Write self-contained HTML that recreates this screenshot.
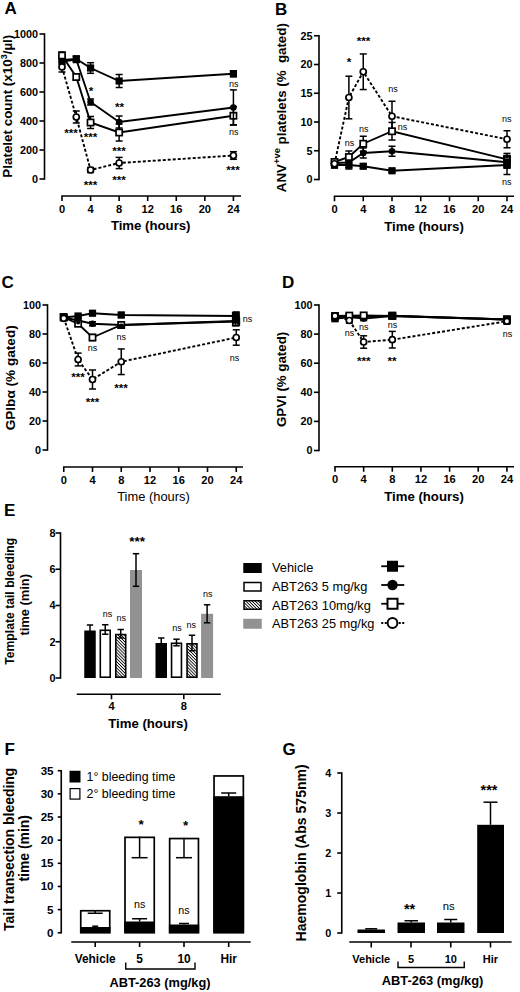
<!DOCTYPE html>
<html><head><meta charset="utf-8"><title>Figure</title>
<style>html,body{margin:0;padding:0;background:#fff;}svg{display:block;}text{font-family:"Liberation Sans",sans-serif;fill:#000;}</style>
</head><body>
<svg width="520" height="992" viewBox="0 0 520 992">
<defs><pattern id="hatch" width="2.2" height="2.2" patternUnits="userSpaceOnUse" patternTransform="rotate(45)"><rect width="2.2" height="2.2" fill="#fff"/><rect width="2.2" height="0.85" fill="#000"/></pattern></defs>
<rect width="520" height="992" fill="#fff"/>
<g id="panelA">
<text x="4.5" y="13.75" font-size="17" font-weight="bold" text-anchor="start">A</text>
<line x1="44.5" y1="33.25" x2="44.5" y2="179.75" stroke="#000" stroke-width="1.6"/>
<line x1="39.5" y1="179.0" x2="44.5" y2="179.0" stroke="#000" stroke-width="1.6"/>
<text x="38.0" y="182.9" font-size="10.8" font-weight="bold" text-anchor="end">0</text>
<line x1="39.5" y1="150.0" x2="44.5" y2="150.0" stroke="#000" stroke-width="1.6"/>
<text x="38.0" y="153.9" font-size="10.8" font-weight="bold" text-anchor="end">200</text>
<line x1="39.5" y1="121.0" x2="44.5" y2="121.0" stroke="#000" stroke-width="1.6"/>
<text x="38.0" y="124.9" font-size="10.8" font-weight="bold" text-anchor="end">400</text>
<line x1="39.5" y1="92.0" x2="44.5" y2="92.0" stroke="#000" stroke-width="1.6"/>
<text x="38.0" y="95.9" font-size="10.8" font-weight="bold" text-anchor="end">600</text>
<line x1="39.5" y1="63.0" x2="44.5" y2="63.0" stroke="#000" stroke-width="1.6"/>
<text x="38.0" y="66.9" font-size="10.8" font-weight="bold" text-anchor="end">800</text>
<line x1="39.5" y1="34.0" x2="44.5" y2="34.0" stroke="#000" stroke-width="1.6"/>
<text x="38.0" y="37.9" font-size="10.8" font-weight="bold" text-anchor="end">1000</text>
<line x1="61.25" y1="196" x2="241" y2="196" stroke="#000" stroke-width="1.6"/>
<line x1="62.0" y1="196" x2="62.0" y2="201" stroke="#000" stroke-width="1.6"/>
<text x="62.0" y="213.1" font-size="11.1" font-weight="bold" text-anchor="middle">0</text>
<line x1="90.57" y1="196" x2="90.57" y2="201" stroke="#000" stroke-width="1.6"/>
<text x="90.57" y="213.1" font-size="11.1" font-weight="bold" text-anchor="middle">4</text>
<line x1="119.14" y1="196" x2="119.14" y2="201" stroke="#000" stroke-width="1.6"/>
<text x="119.14" y="213.1" font-size="11.1" font-weight="bold" text-anchor="middle">8</text>
<line x1="147.7" y1="196" x2="147.7" y2="201" stroke="#000" stroke-width="1.6"/>
<text x="147.7" y="213.1" font-size="11.1" font-weight="bold" text-anchor="middle">12</text>
<line x1="176.27" y1="196" x2="176.27" y2="201" stroke="#000" stroke-width="1.6"/>
<text x="176.27" y="213.1" font-size="11.1" font-weight="bold" text-anchor="middle">16</text>
<line x1="204.84" y1="196" x2="204.84" y2="201" stroke="#000" stroke-width="1.6"/>
<text x="204.84" y="213.1" font-size="11.1" font-weight="bold" text-anchor="middle">20</text>
<line x1="233.41" y1="196" x2="233.41" y2="201" stroke="#000" stroke-width="1.6"/>
<text x="233.41" y="213.1" font-size="11.1" font-weight="bold" text-anchor="middle">24</text>
<text x="150.7" y="230.2" font-size="13.2" font-weight="bold" text-anchor="middle">Time (hours)</text>
<text x="12.3" y="106.2" font-size="13.4" font-weight="bold" text-anchor="middle" transform="rotate(-90 12.3 106.2)" textLength="143" lengthAdjust="spacingAndGlyphs">Platelet count (x10<tspan font-size="9" dy="-5">3</tspan><tspan dy="5">/µl)</tspan></text>
<polyline points="62.0,60 76.28,59 90.57,68 119.14,81 233.41,73.75" fill="none" stroke="#000" stroke-width="1.9"/>
<polyline points="62.0,61.5 76.28,59.5 90.57,102 119.14,122 233.41,107.5" fill="none" stroke="#000" stroke-width="1.9"/>
<polyline points="62.0,55.5 76.28,77 90.57,122.5 119.14,132.5 233.41,115.75" fill="none" stroke="#000" stroke-width="1.9"/>
<polyline points="62.0,67 76.28,117 90.57,170 119.14,163 233.41,155.5" fill="none" stroke="#000" stroke-width="1.9" stroke-dasharray="3 2"/>
<line x1="62.0" y1="56" x2="62.0" y2="64" stroke="#000" stroke-width="1.5"/>
<line x1="58.5" y1="56" x2="65.5" y2="56" stroke="#000" stroke-width="1.5"/>
<line x1="58.5" y1="64" x2="65.5" y2="64" stroke="#000" stroke-width="1.5"/>
<line x1="76.28" y1="56" x2="76.28" y2="62" stroke="#000" stroke-width="1.5"/>
<line x1="72.78" y1="56" x2="79.78" y2="56" stroke="#000" stroke-width="1.5"/>
<line x1="72.78" y1="62" x2="79.78" y2="62" stroke="#000" stroke-width="1.5"/>
<line x1="90.57" y1="62.7" x2="90.57" y2="73.3" stroke="#000" stroke-width="1.5"/>
<line x1="87.07" y1="62.7" x2="94.07" y2="62.7" stroke="#000" stroke-width="1.5"/>
<line x1="87.07" y1="73.3" x2="94.07" y2="73.3" stroke="#000" stroke-width="1.5"/>
<line x1="119.14" y1="74.5" x2="119.14" y2="87.5" stroke="#000" stroke-width="1.5"/>
<line x1="115.64" y1="74.5" x2="122.64" y2="74.5" stroke="#000" stroke-width="1.5"/>
<line x1="115.64" y1="87.5" x2="122.64" y2="87.5" stroke="#000" stroke-width="1.5"/>
<line x1="233.41" y1="70.75" x2="233.41" y2="76.75" stroke="#000" stroke-width="1.5"/>
<line x1="229.91" y1="70.75" x2="236.91" y2="70.75" stroke="#000" stroke-width="1.5"/>
<line x1="229.91" y1="76.75" x2="236.91" y2="76.75" stroke="#000" stroke-width="1.5"/>
<line x1="62.0" y1="58.5" x2="62.0" y2="64.5" stroke="#000" stroke-width="1.5"/>
<line x1="58.5" y1="58.5" x2="65.5" y2="58.5" stroke="#000" stroke-width="1.5"/>
<line x1="58.5" y1="64.5" x2="65.5" y2="64.5" stroke="#000" stroke-width="1.5"/>
<line x1="76.28" y1="56.5" x2="76.28" y2="62.5" stroke="#000" stroke-width="1.5"/>
<line x1="72.78" y1="56.5" x2="79.78" y2="56.5" stroke="#000" stroke-width="1.5"/>
<line x1="72.78" y1="62.5" x2="79.78" y2="62.5" stroke="#000" stroke-width="1.5"/>
<line x1="90.57" y1="99" x2="90.57" y2="105" stroke="#000" stroke-width="1.5"/>
<line x1="87.07" y1="99" x2="94.07" y2="99" stroke="#000" stroke-width="1.5"/>
<line x1="87.07" y1="105" x2="94.07" y2="105" stroke="#000" stroke-width="1.5"/>
<line x1="119.14" y1="116" x2="119.14" y2="128" stroke="#000" stroke-width="1.5"/>
<line x1="115.64" y1="116" x2="122.64" y2="116" stroke="#000" stroke-width="1.5"/>
<line x1="115.64" y1="128" x2="122.64" y2="128" stroke="#000" stroke-width="1.5"/>
<line x1="233.41" y1="89.9" x2="233.41" y2="125.1" stroke="#000" stroke-width="1.5"/>
<line x1="229.91" y1="89.9" x2="236.91" y2="89.9" stroke="#000" stroke-width="1.5"/>
<line x1="229.91" y1="125.1" x2="236.91" y2="125.1" stroke="#000" stroke-width="1.5"/>
<line x1="62.0" y1="52.0" x2="62.0" y2="59.0" stroke="#000" stroke-width="1.5"/>
<line x1="58.5" y1="52.0" x2="65.5" y2="52.0" stroke="#000" stroke-width="1.5"/>
<line x1="58.5" y1="59.0" x2="65.5" y2="59.0" stroke="#000" stroke-width="1.5"/>
<line x1="76.28" y1="74" x2="76.28" y2="80" stroke="#000" stroke-width="1.5"/>
<line x1="72.78" y1="74" x2="79.78" y2="74" stroke="#000" stroke-width="1.5"/>
<line x1="72.78" y1="80" x2="79.78" y2="80" stroke="#000" stroke-width="1.5"/>
<line x1="90.57" y1="116.5" x2="90.57" y2="128.5" stroke="#000" stroke-width="1.5"/>
<line x1="87.07" y1="116.5" x2="94.07" y2="116.5" stroke="#000" stroke-width="1.5"/>
<line x1="87.07" y1="128.5" x2="94.07" y2="128.5" stroke="#000" stroke-width="1.5"/>
<line x1="119.14" y1="124.0" x2="119.14" y2="141.0" stroke="#000" stroke-width="1.5"/>
<line x1="115.64" y1="124.0" x2="122.64" y2="124.0" stroke="#000" stroke-width="1.5"/>
<line x1="115.64" y1="141.0" x2="122.64" y2="141.0" stroke="#000" stroke-width="1.5"/>
<line x1="233.41" y1="106.75" x2="233.41" y2="124.75" stroke="#000" stroke-width="1.5"/>
<line x1="229.91" y1="106.75" x2="236.91" y2="106.75" stroke="#000" stroke-width="1.5"/>
<line x1="229.91" y1="124.75" x2="236.91" y2="124.75" stroke="#000" stroke-width="1.5"/>
<line x1="62.0" y1="62" x2="62.0" y2="72" stroke="#000" stroke-width="1.5"/>
<line x1="58.5" y1="62" x2="65.5" y2="62" stroke="#000" stroke-width="1.5"/>
<line x1="58.5" y1="72" x2="65.5" y2="72" stroke="#000" stroke-width="1.5"/>
<line x1="76.28" y1="111" x2="76.28" y2="123" stroke="#000" stroke-width="1.5"/>
<line x1="72.78" y1="111" x2="79.78" y2="111" stroke="#000" stroke-width="1.5"/>
<line x1="72.78" y1="123" x2="79.78" y2="123" stroke="#000" stroke-width="1.5"/>
<line x1="90.57" y1="167.5" x2="90.57" y2="172.5" stroke="#000" stroke-width="1.5"/>
<line x1="87.07" y1="167.5" x2="94.07" y2="167.5" stroke="#000" stroke-width="1.5"/>
<line x1="87.07" y1="172.5" x2="94.07" y2="172.5" stroke="#000" stroke-width="1.5"/>
<line x1="119.14" y1="157.4" x2="119.14" y2="168.6" stroke="#000" stroke-width="1.5"/>
<line x1="115.64" y1="157.4" x2="122.64" y2="157.4" stroke="#000" stroke-width="1.5"/>
<line x1="115.64" y1="168.6" x2="122.64" y2="168.6" stroke="#000" stroke-width="1.5"/>
<line x1="233.41" y1="151.7" x2="233.41" y2="159.3" stroke="#000" stroke-width="1.5"/>
<line x1="229.91" y1="151.7" x2="236.91" y2="151.7" stroke="#000" stroke-width="1.5"/>
<line x1="229.91" y1="159.3" x2="236.91" y2="159.3" stroke="#000" stroke-width="1.5"/>
<rect x="58.4" y="56.4" width="7.2" height="7.2" fill="#000"/>
<rect x="72.67999999999999" y="55.4" width="7.2" height="7.2" fill="#000"/>
<rect x="86.96999999999998" y="64.39999999999999" width="7.2" height="7.2" fill="#000"/>
<rect x="115.53999999999999" y="77.39999999999999" width="7.2" height="7.2" fill="#000"/>
<rect x="229.81" y="70.14999999999999" width="7.2" height="7.2" fill="#000"/>
<circle cx="62.0" cy="61.5" r="3.3" fill="#000"/>
<circle cx="76.28" cy="59.5" r="3.3" fill="#000"/>
<circle cx="90.57" cy="102" r="3.3" fill="#000"/>
<circle cx="119.14" cy="122" r="3.3" fill="#000"/>
<circle cx="233.41" cy="107.5" r="3.3" fill="#000"/>
<rect x="58.9" y="52.4" width="6.2" height="6.2" fill="#fff" stroke="#000" stroke-width="1.7"/>
<rect x="73.17999999999999" y="73.89999999999999" width="6.2" height="6.2" fill="#fff" stroke="#000" stroke-width="1.7"/>
<rect x="87.46999999999998" y="119.39999999999999" width="6.2" height="6.2" fill="#fff" stroke="#000" stroke-width="1.7"/>
<rect x="116.03999999999999" y="129.4" width="6.2" height="6.2" fill="#fff" stroke="#000" stroke-width="1.7"/>
<rect x="230.31" y="112.64999999999999" width="6.2" height="6.2" fill="#fff" stroke="#000" stroke-width="1.7"/>
<circle cx="62.0" cy="67" r="3.0" fill="#fff" stroke="#000" stroke-width="1.7"/>
<circle cx="76.28" cy="117" r="3.0" fill="#fff" stroke="#000" stroke-width="1.7"/>
<circle cx="90.57" cy="170" r="3.0" fill="#fff" stroke="#000" stroke-width="1.7"/>
<circle cx="119.14" cy="163" r="3.0" fill="#fff" stroke="#000" stroke-width="1.7"/>
<circle cx="233.41" cy="155.5" r="3.0" fill="#fff" stroke="#000" stroke-width="1.7"/>
<text x="71" y="136.967" font-size="11.7" font-weight="bold" text-anchor="middle">***</text>
<text x="90.5" y="141.467" font-size="11.7" font-weight="bold" text-anchor="middle">***</text>
<text x="119" y="154.967" font-size="11.7" font-weight="bold" text-anchor="middle">***</text>
<text x="90.5" y="188.967" font-size="11.7" font-weight="bold" text-anchor="middle">***</text>
<text x="119" y="183.967" font-size="11.7" font-weight="bold" text-anchor="middle">***</text>
<text x="91" y="95.467" font-size="11.7" font-weight="bold" text-anchor="middle">*</text>
<text x="119.5" y="111.467" font-size="11.7" font-weight="bold" text-anchor="middle">**</text>
<text x="233" y="173.967" font-size="11.7" font-weight="bold" text-anchor="middle">***</text>
<text x="233.7" y="86.8" font-size="9" font-weight="normal" text-anchor="middle">ns</text>
<text x="233.7" y="135" font-size="9" font-weight="normal" text-anchor="middle">ns</text>
<line x1="233.41" y1="112" x2="233.41" y2="119.5" stroke="#000" stroke-width="1.5"/>
</g>
<g id="panelB">
<text x="275" y="14.5" font-size="17" font-weight="bold" text-anchor="start">B</text>
<line x1="319" y1="35.0" x2="319" y2="180.25" stroke="#000" stroke-width="1.6"/>
<line x1="314" y1="179.5" x2="319" y2="179.5" stroke="#000" stroke-width="1.6"/>
<text x="312.5" y="183.4" font-size="10.8" font-weight="bold" text-anchor="end">0</text>
<line x1="314" y1="150.75" x2="319" y2="150.75" stroke="#000" stroke-width="1.6"/>
<text x="312.5" y="154.65" font-size="10.8" font-weight="bold" text-anchor="end">5</text>
<line x1="314" y1="122.0" x2="319" y2="122.0" stroke="#000" stroke-width="1.6"/>
<text x="312.5" y="125.9" font-size="10.8" font-weight="bold" text-anchor="end">10</text>
<line x1="314" y1="93.25" x2="319" y2="93.25" stroke="#000" stroke-width="1.6"/>
<text x="312.5" y="97.15" font-size="10.8" font-weight="bold" text-anchor="end">15</text>
<line x1="314" y1="64.5" x2="319" y2="64.5" stroke="#000" stroke-width="1.6"/>
<text x="312.5" y="68.4" font-size="10.8" font-weight="bold" text-anchor="end">20</text>
<line x1="314" y1="35.75" x2="319" y2="35.75" stroke="#000" stroke-width="1.6"/>
<text x="312.5" y="39.65" font-size="10.8" font-weight="bold" text-anchor="end">25</text>
<line x1="333.75" y1="196.25" x2="514" y2="196.25" stroke="#000" stroke-width="1.6"/>
<line x1="334.5" y1="196.25" x2="334.5" y2="201.25" stroke="#000" stroke-width="1.6"/>
<text x="334.5" y="213.45" font-size="11.1" font-weight="bold" text-anchor="middle">0</text>
<line x1="363.25" y1="196.25" x2="363.25" y2="201.25" stroke="#000" stroke-width="1.6"/>
<text x="363.25" y="213.45" font-size="11.1" font-weight="bold" text-anchor="middle">4</text>
<line x1="392.0" y1="196.25" x2="392.0" y2="201.25" stroke="#000" stroke-width="1.6"/>
<text x="392.0" y="213.45" font-size="11.1" font-weight="bold" text-anchor="middle">8</text>
<line x1="420.75" y1="196.25" x2="420.75" y2="201.25" stroke="#000" stroke-width="1.6"/>
<text x="420.75" y="213.45" font-size="11.1" font-weight="bold" text-anchor="middle">12</text>
<line x1="449.5" y1="196.25" x2="449.5" y2="201.25" stroke="#000" stroke-width="1.6"/>
<text x="449.5" y="213.45" font-size="11.1" font-weight="bold" text-anchor="middle">16</text>
<line x1="478.25" y1="196.25" x2="478.25" y2="201.25" stroke="#000" stroke-width="1.6"/>
<text x="478.25" y="213.45" font-size="11.1" font-weight="bold" text-anchor="middle">20</text>
<line x1="507.0" y1="196.25" x2="507.0" y2="201.25" stroke="#000" stroke-width="1.6"/>
<text x="507.0" y="213.45" font-size="11.1" font-weight="bold" text-anchor="middle">24</text>
<text x="424" y="230.5" font-size="13.2" font-weight="bold" text-anchor="middle">Time (hours)</text>
<text x="286.1" y="107.65" font-size="13.3" font-weight="bold" text-anchor="middle" transform="rotate(-90 286.1 107.65)" textLength="169" lengthAdjust="spacingAndGlyphs">ANV<tspan font-size="9.4" dy="-6">+ve</tspan><tspan dy="6"> platelets (%&#160;&#160;gated)</tspan></text>
<polyline points="334.5,165 348.88,165 363.25,166.25 392.0,170.75 507.0,165" fill="none" stroke="#000" stroke-width="1.9"/>
<polyline points="334.5,163 348.88,162.5 363.25,153 392.0,151.25 507.0,162.25" fill="none" stroke="#000" stroke-width="1.9"/>
<polyline points="334.5,162 348.88,157 363.25,143.75 392.0,131.25 507.0,159.4" fill="none" stroke="#000" stroke-width="1.9"/>
<polyline points="334.5,163.75 348.88,97.5 363.25,71.75 392.0,116.25 507.0,139.25" fill="none" stroke="#000" stroke-width="1.9" stroke-dasharray="3 2"/>
<line x1="334.5" y1="162" x2="334.5" y2="168" stroke="#000" stroke-width="1.5"/>
<line x1="331.0" y1="162" x2="338.0" y2="162" stroke="#000" stroke-width="1.5"/>
<line x1="331.0" y1="168" x2="338.0" y2="168" stroke="#000" stroke-width="1.5"/>
<line x1="348.88" y1="161" x2="348.88" y2="169" stroke="#000" stroke-width="1.5"/>
<line x1="345.38" y1="161" x2="352.38" y2="161" stroke="#000" stroke-width="1.5"/>
<line x1="345.38" y1="169" x2="352.38" y2="169" stroke="#000" stroke-width="1.5"/>
<line x1="363.25" y1="164.25" x2="363.25" y2="168.25" stroke="#000" stroke-width="1.5"/>
<line x1="359.75" y1="164.25" x2="366.75" y2="164.25" stroke="#000" stroke-width="1.5"/>
<line x1="359.75" y1="168.25" x2="366.75" y2="168.25" stroke="#000" stroke-width="1.5"/>
<line x1="392.0" y1="169.25" x2="392.0" y2="172.25" stroke="#000" stroke-width="1.5"/>
<line x1="388.5" y1="169.25" x2="395.5" y2="169.25" stroke="#000" stroke-width="1.5"/>
<line x1="388.5" y1="172.25" x2="395.5" y2="172.25" stroke="#000" stroke-width="1.5"/>
<line x1="507.0" y1="155.5" x2="507.0" y2="174.5" stroke="#000" stroke-width="1.5"/>
<line x1="503.5" y1="155.5" x2="510.5" y2="155.5" stroke="#000" stroke-width="1.5"/>
<line x1="503.5" y1="174.5" x2="510.5" y2="174.5" stroke="#000" stroke-width="1.5"/>
<line x1="334.5" y1="160" x2="334.5" y2="166" stroke="#000" stroke-width="1.5"/>
<line x1="331.0" y1="160" x2="338.0" y2="160" stroke="#000" stroke-width="1.5"/>
<line x1="331.0" y1="166" x2="338.0" y2="166" stroke="#000" stroke-width="1.5"/>
<line x1="348.88" y1="157.5" x2="348.88" y2="167.5" stroke="#000" stroke-width="1.5"/>
<line x1="345.38" y1="157.5" x2="352.38" y2="157.5" stroke="#000" stroke-width="1.5"/>
<line x1="345.38" y1="167.5" x2="352.38" y2="167.5" stroke="#000" stroke-width="1.5"/>
<line x1="363.25" y1="148" x2="363.25" y2="158" stroke="#000" stroke-width="1.5"/>
<line x1="359.75" y1="148" x2="366.75" y2="148" stroke="#000" stroke-width="1.5"/>
<line x1="359.75" y1="158" x2="366.75" y2="158" stroke="#000" stroke-width="1.5"/>
<line x1="392.0" y1="146.25" x2="392.0" y2="156.25" stroke="#000" stroke-width="1.5"/>
<line x1="388.5" y1="146.25" x2="395.5" y2="146.25" stroke="#000" stroke-width="1.5"/>
<line x1="388.5" y1="156.25" x2="395.5" y2="156.25" stroke="#000" stroke-width="1.5"/>
<line x1="507.0" y1="156.25" x2="507.0" y2="168.25" stroke="#000" stroke-width="1.5"/>
<line x1="503.5" y1="156.25" x2="510.5" y2="156.25" stroke="#000" stroke-width="1.5"/>
<line x1="503.5" y1="168.25" x2="510.5" y2="168.25" stroke="#000" stroke-width="1.5"/>
<line x1="334.5" y1="159" x2="334.5" y2="165" stroke="#000" stroke-width="1.5"/>
<line x1="331.0" y1="159" x2="338.0" y2="159" stroke="#000" stroke-width="1.5"/>
<line x1="331.0" y1="165" x2="338.0" y2="165" stroke="#000" stroke-width="1.5"/>
<line x1="348.88" y1="151" x2="348.88" y2="163" stroke="#000" stroke-width="1.5"/>
<line x1="345.38" y1="151" x2="352.38" y2="151" stroke="#000" stroke-width="1.5"/>
<line x1="345.38" y1="163" x2="352.38" y2="163" stroke="#000" stroke-width="1.5"/>
<line x1="363.25" y1="136.25" x2="363.25" y2="151.25" stroke="#000" stroke-width="1.5"/>
<line x1="359.75" y1="136.25" x2="366.75" y2="136.25" stroke="#000" stroke-width="1.5"/>
<line x1="359.75" y1="151.25" x2="366.75" y2="151.25" stroke="#000" stroke-width="1.5"/>
<line x1="392.0" y1="122.45" x2="392.0" y2="140.05" stroke="#000" stroke-width="1.5"/>
<line x1="388.5" y1="122.45" x2="395.5" y2="122.45" stroke="#000" stroke-width="1.5"/>
<line x1="388.5" y1="140.05" x2="395.5" y2="140.05" stroke="#000" stroke-width="1.5"/>
<line x1="507.0" y1="153.4" x2="507.0" y2="165.4" stroke="#000" stroke-width="1.5"/>
<line x1="503.5" y1="153.4" x2="510.5" y2="153.4" stroke="#000" stroke-width="1.5"/>
<line x1="503.5" y1="165.4" x2="510.5" y2="165.4" stroke="#000" stroke-width="1.5"/>
<line x1="334.5" y1="160.75" x2="334.5" y2="166.75" stroke="#000" stroke-width="1.5"/>
<line x1="331.0" y1="160.75" x2="338.0" y2="160.75" stroke="#000" stroke-width="1.5"/>
<line x1="331.0" y1="166.75" x2="338.0" y2="166.75" stroke="#000" stroke-width="1.5"/>
<line x1="348.88" y1="76.2" x2="348.88" y2="118.8" stroke="#000" stroke-width="1.5"/>
<line x1="345.38" y1="76.2" x2="352.38" y2="76.2" stroke="#000" stroke-width="1.5"/>
<line x1="345.38" y1="118.8" x2="352.38" y2="118.8" stroke="#000" stroke-width="1.5"/>
<line x1="363.25" y1="53.95" x2="363.25" y2="89.55" stroke="#000" stroke-width="1.5"/>
<line x1="359.75" y1="53.95" x2="366.75" y2="53.95" stroke="#000" stroke-width="1.5"/>
<line x1="359.75" y1="89.55" x2="366.75" y2="89.55" stroke="#000" stroke-width="1.5"/>
<line x1="392.0" y1="101.25" x2="392.0" y2="131.25" stroke="#000" stroke-width="1.5"/>
<line x1="388.5" y1="101.25" x2="395.5" y2="101.25" stroke="#000" stroke-width="1.5"/>
<line x1="388.5" y1="131.25" x2="395.5" y2="131.25" stroke="#000" stroke-width="1.5"/>
<line x1="507.0" y1="130.75" x2="507.0" y2="147.75" stroke="#000" stroke-width="1.5"/>
<line x1="503.5" y1="130.75" x2="510.5" y2="130.75" stroke="#000" stroke-width="1.5"/>
<line x1="503.5" y1="147.75" x2="510.5" y2="147.75" stroke="#000" stroke-width="1.5"/>
<rect x="330.90000000000003" y="161.4" width="7.2" height="7.2" fill="#000"/>
<rect x="345.28000000000003" y="161.4" width="7.2" height="7.2" fill="#000"/>
<rect x="359.65000000000003" y="162.65" width="7.2" height="7.2" fill="#000"/>
<rect x="388.40000000000003" y="167.15" width="7.2" height="7.2" fill="#000"/>
<rect x="503.40000000000003" y="161.4" width="7.2" height="7.2" fill="#000"/>
<circle cx="334.5" cy="163" r="3.3" fill="#000"/>
<circle cx="348.88" cy="162.5" r="3.3" fill="#000"/>
<circle cx="363.25" cy="153" r="3.3" fill="#000"/>
<circle cx="392.0" cy="151.25" r="3.3" fill="#000"/>
<circle cx="507.0" cy="162.25" r="3.3" fill="#000"/>
<rect x="331.40000000000003" y="158.9" width="6.2" height="6.2" fill="#fff" stroke="#000" stroke-width="1.7"/>
<rect x="345.78000000000003" y="153.9" width="6.2" height="6.2" fill="#fff" stroke="#000" stroke-width="1.7"/>
<rect x="360.15000000000003" y="140.65" width="6.2" height="6.2" fill="#fff" stroke="#000" stroke-width="1.7"/>
<rect x="388.90000000000003" y="128.15" width="6.2" height="6.2" fill="#fff" stroke="#000" stroke-width="1.7"/>
<rect x="503.90000000000003" y="156.3" width="6.2" height="6.2" fill="#fff" stroke="#000" stroke-width="1.7"/>
<circle cx="334.5" cy="163.75" r="3.0" fill="#fff" stroke="#000" stroke-width="1.7"/>
<circle cx="348.88" cy="97.5" r="3.0" fill="#fff" stroke="#000" stroke-width="1.7"/>
<circle cx="363.25" cy="71.75" r="3.0" fill="#fff" stroke="#000" stroke-width="1.7"/>
<circle cx="392.0" cy="116.25" r="3.0" fill="#fff" stroke="#000" stroke-width="1.7"/>
<circle cx="507.0" cy="139.25" r="3.0" fill="#fff" stroke="#000" stroke-width="1.7"/>
<rect x="503.3" y="155.6" width="7.4" height="12.2" fill="#000"/>
<rect x="505.4" y="157.8" width="1.1" height="1.1" fill="#aaa"/><rect x="507.6" y="157.8" width="1.1" height="1.1" fill="#aaa"/>
<text x="349" y="65.967" font-size="11.7" font-weight="bold" text-anchor="middle">*</text>
<text x="363.5" y="44.967" font-size="11.7" font-weight="bold" text-anchor="middle">***</text>
<text x="349.5" y="145.5" font-size="9" font-weight="normal" text-anchor="middle">ns</text>
<text x="363.75" y="131.75" font-size="9" font-weight="normal" text-anchor="middle">ns</text>
<text x="393" y="91.75" font-size="9" font-weight="normal" text-anchor="middle">ns</text>
<text x="402.5" y="130" font-size="9" font-weight="normal" text-anchor="middle">ns</text>
<text x="506.75" y="122.25" font-size="9" font-weight="normal" text-anchor="middle">ns</text>
<text x="506.75" y="184.5" font-size="9" font-weight="normal" text-anchor="middle">ns</text>
</g>
<g id="panelC">
<text x="1.5" y="288" font-size="17" font-weight="bold" text-anchor="start">C</text>
<line x1="47.5" y1="304.25" x2="47.5" y2="450.75" stroke="#000" stroke-width="1.6"/>
<line x1="42.5" y1="450.0" x2="47.5" y2="450.0" stroke="#000" stroke-width="1.6"/>
<text x="41.0" y="453.9" font-size="10.8" font-weight="bold" text-anchor="end">0</text>
<line x1="42.5" y1="421.0" x2="47.5" y2="421.0" stroke="#000" stroke-width="1.6"/>
<text x="41.0" y="424.9" font-size="10.8" font-weight="bold" text-anchor="end">20</text>
<line x1="42.5" y1="392.0" x2="47.5" y2="392.0" stroke="#000" stroke-width="1.6"/>
<text x="41.0" y="395.9" font-size="10.8" font-weight="bold" text-anchor="end">40</text>
<line x1="42.5" y1="363.0" x2="47.5" y2="363.0" stroke="#000" stroke-width="1.6"/>
<text x="41.0" y="366.9" font-size="10.8" font-weight="bold" text-anchor="end">60</text>
<line x1="42.5" y1="334.0" x2="47.5" y2="334.0" stroke="#000" stroke-width="1.6"/>
<text x="41.0" y="337.9" font-size="10.8" font-weight="bold" text-anchor="end">80</text>
<line x1="42.5" y1="305.0" x2="47.5" y2="305.0" stroke="#000" stroke-width="1.6"/>
<text x="41.0" y="308.9" font-size="10.8" font-weight="bold" text-anchor="end">100</text>
<line x1="63.0" y1="467" x2="243" y2="467" stroke="#000" stroke-width="1.6"/>
<line x1="63.75" y1="467" x2="63.75" y2="472" stroke="#000" stroke-width="1.6"/>
<text x="63.75" y="483.6" font-size="11.1" font-weight="bold" text-anchor="middle">0</text>
<line x1="92.5" y1="467" x2="92.5" y2="472" stroke="#000" stroke-width="1.6"/>
<text x="92.5" y="483.6" font-size="11.1" font-weight="bold" text-anchor="middle">4</text>
<line x1="121.25" y1="467" x2="121.25" y2="472" stroke="#000" stroke-width="1.6"/>
<text x="121.25" y="483.6" font-size="11.1" font-weight="bold" text-anchor="middle">8</text>
<line x1="150.0" y1="467" x2="150.0" y2="472" stroke="#000" stroke-width="1.6"/>
<text x="150.0" y="483.6" font-size="11.1" font-weight="bold" text-anchor="middle">12</text>
<line x1="178.75" y1="467" x2="178.75" y2="472" stroke="#000" stroke-width="1.6"/>
<text x="178.75" y="483.6" font-size="11.1" font-weight="bold" text-anchor="middle">16</text>
<line x1="207.5" y1="467" x2="207.5" y2="472" stroke="#000" stroke-width="1.6"/>
<text x="207.5" y="483.6" font-size="11.1" font-weight="bold" text-anchor="middle">20</text>
<line x1="236.25" y1="467" x2="236.25" y2="472" stroke="#000" stroke-width="1.6"/>
<text x="236.25" y="483.6" font-size="11.1" font-weight="bold" text-anchor="middle">24</text>
<text x="153.5" y="501" font-size="12.9" font-weight="normal" text-anchor="middle">Time (hours)</text>
<text x="15.3" y="377.8" font-size="13.5" font-weight="bold" text-anchor="middle" transform="rotate(-90 15.3 377.8)" textLength="105" lengthAdjust="spacingAndGlyphs">GPIbα (% gated)</text>
<polyline points="63.75,317.5 78.12,316 92.5,313.25 121.25,315 236.25,316" fill="none" stroke="#000" stroke-width="1.9"/>
<polyline points="63.75,317.5 78.12,320.5 92.5,323.75 121.25,325 236.25,321" fill="none" stroke="#000" stroke-width="1.9"/>
<polyline points="63.75,317.5 78.12,323.75 92.5,337.5 121.25,325 236.25,321.5" fill="none" stroke="#000" stroke-width="1.9"/>
<polyline points="63.75,318 78.12,359.5 92.5,379.5 121.25,361.75 236.25,337.5" fill="none" stroke="#000" stroke-width="1.9" stroke-dasharray="3 2"/>
<line x1="63.75" y1="315.5" x2="63.75" y2="319.5" stroke="#000" stroke-width="1.5"/>
<line x1="60.25" y1="315.5" x2="67.25" y2="315.5" stroke="#000" stroke-width="1.5"/>
<line x1="60.25" y1="319.5" x2="67.25" y2="319.5" stroke="#000" stroke-width="1.5"/>
<line x1="78.12" y1="314" x2="78.12" y2="318" stroke="#000" stroke-width="1.5"/>
<line x1="74.62" y1="314" x2="81.62" y2="314" stroke="#000" stroke-width="1.5"/>
<line x1="74.62" y1="318" x2="81.62" y2="318" stroke="#000" stroke-width="1.5"/>
<line x1="92.5" y1="311.25" x2="92.5" y2="315.25" stroke="#000" stroke-width="1.5"/>
<line x1="89.0" y1="311.25" x2="96.0" y2="311.25" stroke="#000" stroke-width="1.5"/>
<line x1="89.0" y1="315.25" x2="96.0" y2="315.25" stroke="#000" stroke-width="1.5"/>
<line x1="121.25" y1="312.5" x2="121.25" y2="317.5" stroke="#000" stroke-width="1.5"/>
<line x1="117.75" y1="312.5" x2="124.75" y2="312.5" stroke="#000" stroke-width="1.5"/>
<line x1="117.75" y1="317.5" x2="124.75" y2="317.5" stroke="#000" stroke-width="1.5"/>
<line x1="236.25" y1="312" x2="236.25" y2="320" stroke="#000" stroke-width="1.5"/>
<line x1="232.75" y1="312" x2="239.75" y2="312" stroke="#000" stroke-width="1.5"/>
<line x1="232.75" y1="320" x2="239.75" y2="320" stroke="#000" stroke-width="1.5"/>
<line x1="63.75" y1="315.5" x2="63.75" y2="319.5" stroke="#000" stroke-width="1.5"/>
<line x1="60.25" y1="315.5" x2="67.25" y2="315.5" stroke="#000" stroke-width="1.5"/>
<line x1="60.25" y1="319.5" x2="67.25" y2="319.5" stroke="#000" stroke-width="1.5"/>
<line x1="78.12" y1="318.5" x2="78.12" y2="322.5" stroke="#000" stroke-width="1.5"/>
<line x1="74.62" y1="318.5" x2="81.62" y2="318.5" stroke="#000" stroke-width="1.5"/>
<line x1="74.62" y1="322.5" x2="81.62" y2="322.5" stroke="#000" stroke-width="1.5"/>
<line x1="92.5" y1="321.75" x2="92.5" y2="325.75" stroke="#000" stroke-width="1.5"/>
<line x1="89.0" y1="321.75" x2="96.0" y2="321.75" stroke="#000" stroke-width="1.5"/>
<line x1="89.0" y1="325.75" x2="96.0" y2="325.75" stroke="#000" stroke-width="1.5"/>
<line x1="121.25" y1="322" x2="121.25" y2="328" stroke="#000" stroke-width="1.5"/>
<line x1="117.75" y1="322" x2="124.75" y2="322" stroke="#000" stroke-width="1.5"/>
<line x1="117.75" y1="328" x2="124.75" y2="328" stroke="#000" stroke-width="1.5"/>
<line x1="236.25" y1="317" x2="236.25" y2="325" stroke="#000" stroke-width="1.5"/>
<line x1="232.75" y1="317" x2="239.75" y2="317" stroke="#000" stroke-width="1.5"/>
<line x1="232.75" y1="325" x2="239.75" y2="325" stroke="#000" stroke-width="1.5"/>
<line x1="63.75" y1="315.5" x2="63.75" y2="319.5" stroke="#000" stroke-width="1.5"/>
<line x1="60.25" y1="315.5" x2="67.25" y2="315.5" stroke="#000" stroke-width="1.5"/>
<line x1="60.25" y1="319.5" x2="67.25" y2="319.5" stroke="#000" stroke-width="1.5"/>
<line x1="78.12" y1="321.75" x2="78.12" y2="325.75" stroke="#000" stroke-width="1.5"/>
<line x1="74.62" y1="321.75" x2="81.62" y2="321.75" stroke="#000" stroke-width="1.5"/>
<line x1="74.62" y1="325.75" x2="81.62" y2="325.75" stroke="#000" stroke-width="1.5"/>
<line x1="92.5" y1="334.5" x2="92.5" y2="340.5" stroke="#000" stroke-width="1.5"/>
<line x1="89.0" y1="334.5" x2="96.0" y2="334.5" stroke="#000" stroke-width="1.5"/>
<line x1="89.0" y1="340.5" x2="96.0" y2="340.5" stroke="#000" stroke-width="1.5"/>
<line x1="121.25" y1="322" x2="121.25" y2="328" stroke="#000" stroke-width="1.5"/>
<line x1="117.75" y1="322" x2="124.75" y2="322" stroke="#000" stroke-width="1.5"/>
<line x1="117.75" y1="328" x2="124.75" y2="328" stroke="#000" stroke-width="1.5"/>
<line x1="236.25" y1="317.5" x2="236.25" y2="325.5" stroke="#000" stroke-width="1.5"/>
<line x1="232.75" y1="317.5" x2="239.75" y2="317.5" stroke="#000" stroke-width="1.5"/>
<line x1="232.75" y1="325.5" x2="239.75" y2="325.5" stroke="#000" stroke-width="1.5"/>
<line x1="63.75" y1="316" x2="63.75" y2="320" stroke="#000" stroke-width="1.5"/>
<line x1="60.25" y1="316" x2="67.25" y2="316" stroke="#000" stroke-width="1.5"/>
<line x1="60.25" y1="320" x2="67.25" y2="320" stroke="#000" stroke-width="1.5"/>
<line x1="78.12" y1="353.1" x2="78.12" y2="365.9" stroke="#000" stroke-width="1.5"/>
<line x1="74.62" y1="353.1" x2="81.62" y2="353.1" stroke="#000" stroke-width="1.5"/>
<line x1="74.62" y1="365.9" x2="81.62" y2="365.9" stroke="#000" stroke-width="1.5"/>
<line x1="92.5" y1="370.0" x2="92.5" y2="389.0" stroke="#000" stroke-width="1.5"/>
<line x1="89.0" y1="370.0" x2="96.0" y2="370.0" stroke="#000" stroke-width="1.5"/>
<line x1="89.0" y1="389.0" x2="96.0" y2="389.0" stroke="#000" stroke-width="1.5"/>
<line x1="121.25" y1="348.95" x2="121.25" y2="374.55" stroke="#000" stroke-width="1.5"/>
<line x1="117.75" y1="348.95" x2="124.75" y2="348.95" stroke="#000" stroke-width="1.5"/>
<line x1="117.75" y1="374.55" x2="124.75" y2="374.55" stroke="#000" stroke-width="1.5"/>
<line x1="236.25" y1="329.8" x2="236.25" y2="345.2" stroke="#000" stroke-width="1.5"/>
<line x1="232.75" y1="329.8" x2="239.75" y2="329.8" stroke="#000" stroke-width="1.5"/>
<line x1="232.75" y1="345.2" x2="239.75" y2="345.2" stroke="#000" stroke-width="1.5"/>
<rect x="60.15" y="313.90000000000003" width="7.2" height="7.2" fill="#000"/>
<rect x="74.52" y="312.40000000000003" width="7.2" height="7.2" fill="#000"/>
<rect x="88.89999999999999" y="309.65000000000003" width="7.2" height="7.2" fill="#000"/>
<rect x="117.64999999999999" y="311.40000000000003" width="7.2" height="7.2" fill="#000"/>
<rect x="232.65" y="312.40000000000003" width="7.2" height="7.2" fill="#000"/>
<circle cx="63.75" cy="317.5" r="3.3" fill="#000"/>
<circle cx="78.12" cy="320.5" r="3.3" fill="#000"/>
<circle cx="92.5" cy="323.75" r="3.3" fill="#000"/>
<circle cx="121.25" cy="325" r="3.3" fill="#000"/>
<circle cx="236.25" cy="321" r="3.3" fill="#000"/>
<rect x="60.65" y="314.40000000000003" width="6.2" height="6.2" fill="#fff" stroke="#000" stroke-width="1.7"/>
<rect x="75.02" y="320.65000000000003" width="6.2" height="6.2" fill="#fff" stroke="#000" stroke-width="1.7"/>
<rect x="89.39999999999999" y="334.40000000000003" width="6.2" height="6.2" fill="#fff" stroke="#000" stroke-width="1.7"/>
<rect x="118.14999999999999" y="321.90000000000003" width="6.2" height="6.2" fill="#fff" stroke="#000" stroke-width="1.7"/>
<rect x="233.15" y="318.40000000000003" width="6.2" height="6.2" fill="#fff" stroke="#000" stroke-width="1.7"/>
<circle cx="63.75" cy="318" r="3.0" fill="#fff" stroke="#000" stroke-width="1.7"/>
<circle cx="78.12" cy="359.5" r="3.0" fill="#fff" stroke="#000" stroke-width="1.7"/>
<circle cx="92.5" cy="379.5" r="3.0" fill="#fff" stroke="#000" stroke-width="1.7"/>
<circle cx="121.25" cy="361.75" r="3.0" fill="#fff" stroke="#000" stroke-width="1.7"/>
<circle cx="236.25" cy="337.5" r="3.0" fill="#fff" stroke="#000" stroke-width="1.7"/>
<rect x="231.9" y="311.8" width="7.3" height="14.8" fill="#000"/>
<rect x="233.6" y="323.6" width="1.2" height="1.2" fill="#bbb"/><rect x="236.2" y="323.6" width="1.2" height="1.2" fill="#bbb"/>
<circle cx="121.25" cy="326.2" r="2.8" fill="#000"/>
<rect x="59.699999999999996" y="313.09999999999997" width="7.6000000000000005" height="7.6000000000000005" fill="#000"/>
<circle cx="63.75" cy="318.3" r="3.0" fill="#fff" stroke="#000" stroke-width="1.7"/>
<circle cx="78.12" cy="322.5" r="2.1" fill="#000"/>
<text x="78" y="381.467" font-size="11.7" font-weight="bold" text-anchor="middle">***</text>
<text x="92.5" y="405.967" font-size="11.7" font-weight="bold" text-anchor="middle">***</text>
<text x="121" y="391.967" font-size="11.7" font-weight="bold" text-anchor="middle">***</text>
<text x="92.5" y="350.5" font-size="9" font-weight="normal" text-anchor="middle">ns</text>
<text x="121.25" y="340" font-size="9" font-weight="normal" text-anchor="middle">ns</text>
<text x="247.5" y="321.75" font-size="9" font-weight="normal" text-anchor="middle">ns</text>
<text x="234.5" y="360.5" font-size="9" font-weight="normal" text-anchor="middle">ns</text>
</g>
<g id="panelD">
<text x="282" y="288" font-size="17" font-weight="bold" text-anchor="start">D</text>
<line x1="319" y1="304.25" x2="319" y2="451.25" stroke="#000" stroke-width="1.6"/>
<line x1="314" y1="450.5" x2="319" y2="450.5" stroke="#000" stroke-width="1.6"/>
<text x="312.5" y="454.4" font-size="10.8" font-weight="bold" text-anchor="end">0</text>
<line x1="314" y1="421.4" x2="319" y2="421.4" stroke="#000" stroke-width="1.6"/>
<text x="312.5" y="425.29999999999995" font-size="10.8" font-weight="bold" text-anchor="end">20</text>
<line x1="314" y1="392.3" x2="319" y2="392.3" stroke="#000" stroke-width="1.6"/>
<text x="312.5" y="396.2" font-size="10.8" font-weight="bold" text-anchor="end">40</text>
<line x1="314" y1="363.2" x2="319" y2="363.2" stroke="#000" stroke-width="1.6"/>
<text x="312.5" y="367.09999999999997" font-size="10.8" font-weight="bold" text-anchor="end">60</text>
<line x1="314" y1="334.1" x2="319" y2="334.1" stroke="#000" stroke-width="1.6"/>
<text x="312.5" y="338.0" font-size="10.8" font-weight="bold" text-anchor="end">80</text>
<line x1="314" y1="305.0" x2="319" y2="305.0" stroke="#000" stroke-width="1.6"/>
<text x="312.5" y="308.9" font-size="10.8" font-weight="bold" text-anchor="end">100</text>
<line x1="334.25" y1="466.75" x2="514" y2="466.75" stroke="#000" stroke-width="1.6"/>
<line x1="335.0" y1="466.75" x2="335.0" y2="471.75" stroke="#000" stroke-width="1.6"/>
<text x="335.0" y="483.35" font-size="11.1" font-weight="bold" text-anchor="middle">0</text>
<line x1="363.65" y1="466.75" x2="363.65" y2="471.75" stroke="#000" stroke-width="1.6"/>
<text x="363.65" y="483.35" font-size="11.1" font-weight="bold" text-anchor="middle">4</text>
<line x1="392.3" y1="466.75" x2="392.3" y2="471.75" stroke="#000" stroke-width="1.6"/>
<text x="392.3" y="483.35" font-size="11.1" font-weight="bold" text-anchor="middle">8</text>
<line x1="420.95" y1="466.75" x2="420.95" y2="471.75" stroke="#000" stroke-width="1.6"/>
<text x="420.95" y="483.35" font-size="11.1" font-weight="bold" text-anchor="middle">12</text>
<line x1="449.6" y1="466.75" x2="449.6" y2="471.75" stroke="#000" stroke-width="1.6"/>
<text x="449.6" y="483.35" font-size="11.1" font-weight="bold" text-anchor="middle">16</text>
<line x1="478.25" y1="466.75" x2="478.25" y2="471.75" stroke="#000" stroke-width="1.6"/>
<text x="478.25" y="483.35" font-size="11.1" font-weight="bold" text-anchor="middle">20</text>
<line x1="506.9" y1="466.75" x2="506.9" y2="471.75" stroke="#000" stroke-width="1.6"/>
<text x="506.9" y="483.35" font-size="11.1" font-weight="bold" text-anchor="middle">24</text>
<text x="424" y="501" font-size="13.2" font-weight="bold" text-anchor="middle">Time (hours)</text>
<text x="286.1" y="379.4" font-size="13.3" font-weight="bold" text-anchor="middle" transform="rotate(-90 286.1 379.4)" textLength="95.3" lengthAdjust="spacingAndGlyphs">GPVI (% gated)</text>
<polyline points="335.0,318.75 349.32,317 363.65,316.75 392.3,315.75 506.9,319.5" fill="none" stroke="#000" stroke-width="1.9"/>
<polyline points="335.0,317.5 349.32,317 363.65,318.6 392.3,316 506.9,319.5" fill="none" stroke="#000" stroke-width="1.9"/>
<polyline points="335.0,316 349.32,315.6 363.65,315.4 392.3,316 506.9,319.5" fill="none" stroke="#000" stroke-width="1.9"/>
<polyline points="335.0,315.9 349.32,320.5 363.65,342 392.3,339.7 506.9,321.25" fill="none" stroke="#000" stroke-width="1.9" stroke-dasharray="3 2"/>
<line x1="335.0" y1="316.75" x2="335.0" y2="320.75" stroke="#000" stroke-width="1.5"/>
<line x1="331.5" y1="316.75" x2="338.5" y2="316.75" stroke="#000" stroke-width="1.5"/>
<line x1="331.5" y1="320.75" x2="338.5" y2="320.75" stroke="#000" stroke-width="1.5"/>
<line x1="349.32" y1="315" x2="349.32" y2="319" stroke="#000" stroke-width="1.5"/>
<line x1="345.82" y1="315" x2="352.82" y2="315" stroke="#000" stroke-width="1.5"/>
<line x1="345.82" y1="319" x2="352.82" y2="319" stroke="#000" stroke-width="1.5"/>
<line x1="363.65" y1="314.75" x2="363.65" y2="318.75" stroke="#000" stroke-width="1.5"/>
<line x1="360.15" y1="314.75" x2="367.15" y2="314.75" stroke="#000" stroke-width="1.5"/>
<line x1="360.15" y1="318.75" x2="367.15" y2="318.75" stroke="#000" stroke-width="1.5"/>
<line x1="392.3" y1="313.75" x2="392.3" y2="317.75" stroke="#000" stroke-width="1.5"/>
<line x1="388.8" y1="313.75" x2="395.8" y2="313.75" stroke="#000" stroke-width="1.5"/>
<line x1="388.8" y1="317.75" x2="395.8" y2="317.75" stroke="#000" stroke-width="1.5"/>
<line x1="506.9" y1="316.5" x2="506.9" y2="322.5" stroke="#000" stroke-width="1.5"/>
<line x1="503.4" y1="316.5" x2="510.4" y2="316.5" stroke="#000" stroke-width="1.5"/>
<line x1="503.4" y1="322.5" x2="510.4" y2="322.5" stroke="#000" stroke-width="1.5"/>
<line x1="335.0" y1="315.5" x2="335.0" y2="319.5" stroke="#000" stroke-width="1.5"/>
<line x1="331.5" y1="315.5" x2="338.5" y2="315.5" stroke="#000" stroke-width="1.5"/>
<line x1="331.5" y1="319.5" x2="338.5" y2="319.5" stroke="#000" stroke-width="1.5"/>
<line x1="349.32" y1="315" x2="349.32" y2="319" stroke="#000" stroke-width="1.5"/>
<line x1="345.82" y1="315" x2="352.82" y2="315" stroke="#000" stroke-width="1.5"/>
<line x1="345.82" y1="319" x2="352.82" y2="319" stroke="#000" stroke-width="1.5"/>
<line x1="363.65" y1="316.6" x2="363.65" y2="320.6" stroke="#000" stroke-width="1.5"/>
<line x1="360.15" y1="316.6" x2="367.15" y2="316.6" stroke="#000" stroke-width="1.5"/>
<line x1="360.15" y1="320.6" x2="367.15" y2="320.6" stroke="#000" stroke-width="1.5"/>
<line x1="392.3" y1="314" x2="392.3" y2="318" stroke="#000" stroke-width="1.5"/>
<line x1="388.8" y1="314" x2="395.8" y2="314" stroke="#000" stroke-width="1.5"/>
<line x1="388.8" y1="318" x2="395.8" y2="318" stroke="#000" stroke-width="1.5"/>
<line x1="506.9" y1="316.5" x2="506.9" y2="322.5" stroke="#000" stroke-width="1.5"/>
<line x1="503.4" y1="316.5" x2="510.4" y2="316.5" stroke="#000" stroke-width="1.5"/>
<line x1="503.4" y1="322.5" x2="510.4" y2="322.5" stroke="#000" stroke-width="1.5"/>
<line x1="335.0" y1="314" x2="335.0" y2="318" stroke="#000" stroke-width="1.5"/>
<line x1="331.5" y1="314" x2="338.5" y2="314" stroke="#000" stroke-width="1.5"/>
<line x1="331.5" y1="318" x2="338.5" y2="318" stroke="#000" stroke-width="1.5"/>
<line x1="349.32" y1="313.6" x2="349.32" y2="317.6" stroke="#000" stroke-width="1.5"/>
<line x1="345.82" y1="313.6" x2="352.82" y2="313.6" stroke="#000" stroke-width="1.5"/>
<line x1="345.82" y1="317.6" x2="352.82" y2="317.6" stroke="#000" stroke-width="1.5"/>
<line x1="363.65" y1="313.4" x2="363.65" y2="317.4" stroke="#000" stroke-width="1.5"/>
<line x1="360.15" y1="313.4" x2="367.15" y2="313.4" stroke="#000" stroke-width="1.5"/>
<line x1="360.15" y1="317.4" x2="367.15" y2="317.4" stroke="#000" stroke-width="1.5"/>
<line x1="392.3" y1="314" x2="392.3" y2="318" stroke="#000" stroke-width="1.5"/>
<line x1="388.8" y1="314" x2="395.8" y2="314" stroke="#000" stroke-width="1.5"/>
<line x1="388.8" y1="318" x2="395.8" y2="318" stroke="#000" stroke-width="1.5"/>
<line x1="506.9" y1="316.5" x2="506.9" y2="322.5" stroke="#000" stroke-width="1.5"/>
<line x1="503.4" y1="316.5" x2="510.4" y2="316.5" stroke="#000" stroke-width="1.5"/>
<line x1="503.4" y1="322.5" x2="510.4" y2="322.5" stroke="#000" stroke-width="1.5"/>
<line x1="335.0" y1="313.9" x2="335.0" y2="317.9" stroke="#000" stroke-width="1.5"/>
<line x1="331.5" y1="313.9" x2="338.5" y2="313.9" stroke="#000" stroke-width="1.5"/>
<line x1="331.5" y1="317.9" x2="338.5" y2="317.9" stroke="#000" stroke-width="1.5"/>
<line x1="349.32" y1="318.0" x2="349.32" y2="323.0" stroke="#000" stroke-width="1.5"/>
<line x1="345.82" y1="318.0" x2="352.82" y2="318.0" stroke="#000" stroke-width="1.5"/>
<line x1="345.82" y1="323.0" x2="352.82" y2="323.0" stroke="#000" stroke-width="1.5"/>
<line x1="363.65" y1="335.8" x2="363.65" y2="348.2" stroke="#000" stroke-width="1.5"/>
<line x1="360.15" y1="335.8" x2="367.15" y2="335.8" stroke="#000" stroke-width="1.5"/>
<line x1="360.15" y1="348.2" x2="367.15" y2="348.2" stroke="#000" stroke-width="1.5"/>
<line x1="392.3" y1="331.4" x2="392.3" y2="348.0" stroke="#000" stroke-width="1.5"/>
<line x1="388.8" y1="331.4" x2="395.8" y2="331.4" stroke="#000" stroke-width="1.5"/>
<line x1="388.8" y1="348.0" x2="395.8" y2="348.0" stroke="#000" stroke-width="1.5"/>
<line x1="506.9" y1="318.25" x2="506.9" y2="324.25" stroke="#000" stroke-width="1.5"/>
<line x1="503.4" y1="318.25" x2="510.4" y2="318.25" stroke="#000" stroke-width="1.5"/>
<line x1="503.4" y1="324.25" x2="510.4" y2="324.25" stroke="#000" stroke-width="1.5"/>
<rect x="331.40000000000003" y="315.15000000000003" width="7.2" height="7.2" fill="#000"/>
<rect x="345.72" y="313.40000000000003" width="7.2" height="7.2" fill="#000"/>
<rect x="360.05" y="313.15000000000003" width="7.2" height="7.2" fill="#000"/>
<rect x="388.70000000000005" y="312.15000000000003" width="7.2" height="7.2" fill="#000"/>
<rect x="503.3" y="315.90000000000003" width="7.2" height="7.2" fill="#000"/>
<circle cx="335.0" cy="317.5" r="3.3" fill="#000"/>
<circle cx="349.32" cy="317" r="3.3" fill="#000"/>
<circle cx="363.65" cy="318.6" r="3.3" fill="#000"/>
<circle cx="392.3" cy="316" r="3.3" fill="#000"/>
<circle cx="506.9" cy="319.5" r="3.3" fill="#000"/>
<rect x="331.90000000000003" y="312.90000000000003" width="6.2" height="6.2" fill="#fff" stroke="#000" stroke-width="1.7"/>
<rect x="346.22" y="312.50000000000006" width="6.2" height="6.2" fill="#fff" stroke="#000" stroke-width="1.7"/>
<rect x="360.55" y="312.3" width="6.2" height="6.2" fill="#fff" stroke="#000" stroke-width="1.7"/>
<rect x="389.20000000000005" y="312.90000000000003" width="6.2" height="6.2" fill="#fff" stroke="#000" stroke-width="1.7"/>
<rect x="503.8" y="316.40000000000003" width="6.2" height="6.2" fill="#fff" stroke="#000" stroke-width="1.7"/>
<circle cx="335.0" cy="315.9" r="3.0" fill="#fff" stroke="#000" stroke-width="1.7"/>
<circle cx="349.32" cy="320.5" r="3.0" fill="#fff" stroke="#000" stroke-width="1.7"/>
<circle cx="363.65" cy="342" r="3.0" fill="#fff" stroke="#000" stroke-width="1.7"/>
<circle cx="392.3" cy="339.7" r="3.0" fill="#fff" stroke="#000" stroke-width="1.7"/>
<circle cx="506.9" cy="321.25" r="3.0" fill="#fff" stroke="#000" stroke-width="1.7"/>
<rect x="388.3" y="311.6" width="8.0" height="8.0" fill="#000"/>
<rect x="503.0" y="315.90000000000003" width="7.800000000000001" height="7.800000000000001" fill="#000"/>
<circle cx="506.9" cy="321.25" r="2.8000000000000003" fill="#fff" stroke="#000" stroke-width="1.7"/>
<text x="363.75" y="364.717" font-size="11.7" font-weight="bold" text-anchor="middle">***</text>
<text x="392" y="365.467" font-size="11.7" font-weight="bold" text-anchor="middle">**</text>
<text x="349.5" y="336" font-size="9" font-weight="normal" text-anchor="middle">ns</text>
<text x="363.75" y="330" font-size="9" font-weight="normal" text-anchor="middle">ns</text>
<text x="392.5" y="328" font-size="9" font-weight="normal" text-anchor="middle">ns</text>
<text x="507.5" y="336.75" font-size="9" font-weight="normal" text-anchor="middle">ns</text>
</g>
<g id="panelE">
<text x="4" y="515.5" font-size="17" font-weight="bold" text-anchor="start">E</text>
<line x1="60.5" y1="532.25" x2="60.5" y2="678.75" stroke="#000" stroke-width="1.6"/>
<line x1="55.5" y1="678.0" x2="60.5" y2="678.0" stroke="#000" stroke-width="1.6"/>
<text x="55.5" y="681.9" font-size="10.8" font-weight="bold" text-anchor="end">0</text>
<line x1="55.5" y1="641.75" x2="60.5" y2="641.75" stroke="#000" stroke-width="1.6"/>
<text x="55.5" y="645.65" font-size="10.8" font-weight="bold" text-anchor="end">2</text>
<line x1="55.5" y1="605.5" x2="60.5" y2="605.5" stroke="#000" stroke-width="1.6"/>
<text x="55.5" y="609.4" font-size="10.8" font-weight="bold" text-anchor="end">4</text>
<line x1="55.5" y1="569.25" x2="60.5" y2="569.25" stroke="#000" stroke-width="1.6"/>
<text x="55.5" y="573.15" font-size="10.8" font-weight="bold" text-anchor="end">6</text>
<line x1="55.5" y1="533.0" x2="60.5" y2="533.0" stroke="#000" stroke-width="1.6"/>
<text x="55.5" y="536.9" font-size="10.8" font-weight="bold" text-anchor="end">8</text>
<line x1="76.75" y1="694.3" x2="220.8" y2="694.3" stroke="#000" stroke-width="1.6"/>
<line x1="111.5" y1="694.3" x2="111.5" y2="699.3" stroke="#000" stroke-width="1.6"/>
<text x="111.5" y="709.9" font-size="11.1" font-weight="bold" text-anchor="middle">4</text>
<line x1="183.8" y1="694.3" x2="183.8" y2="699.3" stroke="#000" stroke-width="1.6"/>
<text x="183.8" y="709.9" font-size="11.1" font-weight="bold" text-anchor="middle">8</text>
<text x="148" y="728.2" font-size="13.2" font-weight="bold" text-anchor="middle">Time (hours)</text>
<text x="14.1" y="601.3" font-size="13.2" font-weight="bold" text-anchor="middle" transform="rotate(-90 14.1 601.3)" textLength="127" lengthAdjust="spacingAndGlyphs">Template tail bleeding</text>
<text x="28.8" y="604.8" font-size="13.2" font-weight="bold" text-anchor="middle" transform="rotate(-90 28.8 604.8)" textLength="61.5" lengthAdjust="spacingAndGlyphs">time (min)</text>
<rect x="84.25" y="630.5" width="11.5" height="47.5" fill="#000"/>
<line x1="90.0" y1="625.0" x2="90.0" y2="636.0" stroke="#000" stroke-width="1.5"/>
<line x1="86.8" y1="625.0" x2="93.2" y2="625.0" stroke="#000" stroke-width="1.5"/>
<line x1="86.8" y1="636.0" x2="93.2" y2="636.0" stroke="#000" stroke-width="1.5"/>
<rect x="100.3" y="630.3" width="9.9" height="46.9" fill="#fff" stroke="#000" stroke-width="1.6"/>
<line x1="105.25" y1="624.75" x2="105.25" y2="634.25" stroke="#000" stroke-width="1.5"/>
<line x1="102.05" y1="624.75" x2="108.45" y2="624.75" stroke="#000" stroke-width="1.5"/>
<line x1="102.05" y1="634.25" x2="108.45" y2="634.25" stroke="#000" stroke-width="1.5"/>
<rect x="115.8" y="634.55" width="9.9" height="42.65" fill="url(#hatch)" stroke="#000" stroke-width="1.6"/>
<line x1="120.75" y1="629.5" x2="120.75" y2="638.0" stroke="#000" stroke-width="1.5"/>
<line x1="117.55" y1="629.5" x2="123.95" y2="629.5" stroke="#000" stroke-width="1.5"/>
<line x1="117.55" y1="638.0" x2="123.95" y2="638.0" stroke="#000" stroke-width="1.5"/>
<rect x="130" y="570" width="12.0" height="108.0" fill="#929292"/>
<line x1="136.0" y1="553.7" x2="136.0" y2="586.3" stroke="#000" stroke-width="1.5"/>
<line x1="132.8" y1="553.7" x2="139.2" y2="553.7" stroke="#000" stroke-width="1.5"/>
<line x1="132.8" y1="586.3" x2="139.2" y2="586.3" stroke="#000" stroke-width="1.5"/>
<rect x="155.5" y="643" width="11.5" height="35.0" fill="#000"/>
<line x1="161.25" y1="638" x2="161.25" y2="648" stroke="#000" stroke-width="1.5"/>
<line x1="158.05" y1="638" x2="164.45" y2="638" stroke="#000" stroke-width="1.5"/>
<line x1="158.05" y1="648" x2="164.45" y2="648" stroke="#000" stroke-width="1.5"/>
<rect x="171.55" y="643.3" width="9.9" height="33.9" fill="#fff" stroke="#000" stroke-width="1.6"/>
<line x1="176.5" y1="639.2" x2="176.5" y2="645.8" stroke="#000" stroke-width="1.5"/>
<line x1="173.3" y1="639.2" x2="179.7" y2="639.2" stroke="#000" stroke-width="1.5"/>
<line x1="173.3" y1="645.8" x2="179.7" y2="645.8" stroke="#000" stroke-width="1.5"/>
<rect x="187.05" y="643.8" width="9.9" height="33.4" fill="url(#hatch)" stroke="#000" stroke-width="1.6"/>
<line x1="192.0" y1="635.25" x2="192.0" y2="650.75" stroke="#000" stroke-width="1.5"/>
<line x1="188.8" y1="635.25" x2="195.2" y2="635.25" stroke="#000" stroke-width="1.5"/>
<line x1="188.8" y1="650.75" x2="195.2" y2="650.75" stroke="#000" stroke-width="1.5"/>
<rect x="201.1" y="613.8" width="12.0" height="64.20000000000005" fill="#929292"/>
<line x1="207.1" y1="604.8" x2="207.1" y2="622.8" stroke="#000" stroke-width="1.5"/>
<line x1="203.9" y1="604.8" x2="210.29999999999998" y2="604.8" stroke="#000" stroke-width="1.5"/>
<line x1="203.9" y1="622.8" x2="210.29999999999998" y2="622.8" stroke="#000" stroke-width="1.5"/>
<text x="137.2" y="545.885" font-size="13.5" font-weight="bold" text-anchor="middle">***</text>
<text x="107.5" y="616.75" font-size="9" font-weight="normal" text-anchor="middle">ns</text>
<text x="121.25" y="621.25" font-size="9" font-weight="normal" text-anchor="middle">ns</text>
<text x="177" y="630.75" font-size="9" font-weight="normal" text-anchor="middle">ns</text>
<text x="191.25" y="627.5" font-size="9" font-weight="normal" text-anchor="middle">ns</text>
<text x="207.8" y="597" font-size="9" font-weight="normal" text-anchor="middle">ns</text>
<rect x="243.25" y="563" width="18.5" height="10" fill="#000"/>
<rect x="244.0" y="582.5" width="17.0" height="8.5" fill="#fff" stroke="#000" stroke-width="1.5"/>
<rect x="244.0" y="600.75" width="17.0" height="8.5" fill="url(#hatch)" stroke="#000" stroke-width="1.5"/>
<rect x="243.25" y="618.75" width="18.5" height="10" fill="#929292"/>
<text x="272" y="572" font-size="12.8" font-weight="normal" text-anchor="start">Vehicle</text>
<text x="272" y="590.75" font-size="12.8" font-weight="normal" text-anchor="start">ABT263 5 mg/kg</text>
<text x="272" y="609.5" font-size="12.8" font-weight="normal" text-anchor="start">ABT263 10mg/kg</text>
<text x="272" y="628" font-size="12.8" font-weight="normal" text-anchor="start">ABT263 25 mg/kg</text>
<line x1="381.25" y1="566.25" x2="404.25" y2="566.25" stroke="#000" stroke-width="1.8"/>
<rect x="387.0" y="560.75" width="11.0" height="11.0" fill="#000"/>
<line x1="381.25" y1="585" x2="404.25" y2="585" stroke="#000" stroke-width="1.8"/>
<circle cx="392.5" cy="585" r="5.2" fill="#000"/>
<line x1="381.25" y1="603.75" x2="404.25" y2="603.75" stroke="#000" stroke-width="1.8"/>
<rect x="387.5" y="598.75" width="10.0" height="10.0" fill="#fff" stroke="#000" stroke-width="2.0"/>
<line x1="381.25" y1="623" x2="404.25" y2="623" stroke="#000" stroke-width="1.8" stroke-dasharray="2 1.5"/>
<circle cx="392.5" cy="623" r="4.8999999999999995" fill="#fff" stroke="#000" stroke-width="2.0"/>
</g>
<g id="panelF">
<text x="4.5" y="755" font-size="17" font-weight="bold" text-anchor="start">F</text>
<line x1="61.25" y1="770.0" x2="61.25" y2="933.5" stroke="#000" stroke-width="1.6"/>
<line x1="57.75" y1="932.75" x2="61.25" y2="932.75" stroke="#000" stroke-width="1.6"/>
<text x="53.55" y="936.65" font-size="11.6" font-weight="bold" text-anchor="end">0</text>
<line x1="57.75" y1="909.6" x2="61.25" y2="909.6" stroke="#000" stroke-width="1.6"/>
<text x="53.55" y="913.5" font-size="11.6" font-weight="bold" text-anchor="end">5</text>
<line x1="57.75" y1="886.45" x2="61.25" y2="886.45" stroke="#000" stroke-width="1.6"/>
<text x="53.55" y="890.35" font-size="11.6" font-weight="bold" text-anchor="end">10</text>
<line x1="57.75" y1="863.3" x2="61.25" y2="863.3" stroke="#000" stroke-width="1.6"/>
<text x="53.55" y="867.1999999999999" font-size="11.6" font-weight="bold" text-anchor="end">15</text>
<line x1="57.75" y1="840.15" x2="61.25" y2="840.15" stroke="#000" stroke-width="1.6"/>
<text x="53.55" y="844.05" font-size="11.6" font-weight="bold" text-anchor="end">20</text>
<line x1="57.75" y1="817.0" x2="61.25" y2="817.0" stroke="#000" stroke-width="1.6"/>
<text x="53.55" y="820.9" font-size="11.6" font-weight="bold" text-anchor="end">25</text>
<line x1="57.75" y1="793.85" x2="61.25" y2="793.85" stroke="#000" stroke-width="1.6"/>
<text x="53.55" y="797.75" font-size="11.6" font-weight="bold" text-anchor="end">30</text>
<line x1="57.75" y1="770.7" x2="61.25" y2="770.7" stroke="#000" stroke-width="1.6"/>
<text x="53.55" y="774.6" font-size="11.6" font-weight="bold" text-anchor="end">35</text>
<line x1="71.25" y1="942" x2="250.7" y2="942" stroke="#000" stroke-width="1.6"/>
<line x1="95.2" y1="942" x2="95.2" y2="947" stroke="#000" stroke-width="1.6"/>
<text x="95.2" y="963.2" font-size="11.9" font-weight="bold" text-anchor="middle">Vehicle</text>
<line x1="139.6" y1="942" x2="139.6" y2="947" stroke="#000" stroke-width="1.6"/>
<text x="139.6" y="963.2" font-size="11.9" font-weight="bold" text-anchor="middle">5</text>
<line x1="184" y1="942" x2="184" y2="947" stroke="#000" stroke-width="1.6"/>
<text x="184" y="963.2" font-size="11.9" font-weight="bold" text-anchor="middle">10</text>
<line x1="228.7" y1="942" x2="228.7" y2="947" stroke="#000" stroke-width="1.6"/>
<text x="228.7" y="963.2" font-size="11.9" font-weight="bold" text-anchor="middle">Hir</text>
<text x="160" y="987" font-size="12.8" font-weight="bold" text-anchor="middle">ABT-263 (mg/kg)</text>
<text x="14.5" y="849.3" font-size="13.95" font-weight="bold" text-anchor="middle" transform="rotate(-90 14.5 849.3)" textLength="163.3" lengthAdjust="spacingAndGlyphs">Tail transection bleeding</text>
<text x="29.2" y="848.3" font-size="13.9" font-weight="bold" text-anchor="middle" transform="rotate(-90 29.2 848.3)" textLength="66.5" lengthAdjust="spacingAndGlyphs">time (min)</text>
<polyline points="125.75,962.5 125.75,969 195,969 195,962.5" fill="none" stroke="#000" stroke-width="1.4"/>
<rect x="80.75" y="910.75" width="29.0" height="22.0" fill="#fff" stroke="#000" stroke-width="1.7"/>
<rect x="80" y="927" width="30.5" height="5.75" fill="#000"/>
<rect x="125.0" y="837.35" width="29.25" height="95.39999999999998" fill="#fff" stroke="#000" stroke-width="1.7"/>
<rect x="124.25" y="921.5" width="30.75" height="11.25" fill="#000"/>
<rect x="169.65" y="838.55" width="28.799999999999983" height="94.20000000000005" fill="#fff" stroke="#000" stroke-width="1.7"/>
<rect x="168.9" y="924.5" width="30.299999999999983" height="8.25" fill="#000"/>
<rect x="214.05" y="775.95" width="29.299999999999983" height="156.79999999999995" fill="#fff" stroke="#000" stroke-width="1.7"/>
<rect x="213.3" y="796.2" width="30.799999999999983" height="136.54999999999995" fill="#000"/>
<line x1="95.2" y1="913.25" x2="95.2" y2="910" stroke="#000" stroke-width="1.5"/>
<line x1="87.7" y1="913.25" x2="102.7" y2="913.25" stroke="#000" stroke-width="1.5"/>
<line x1="95.2" y1="926.2" x2="95.2" y2="927" stroke="#000" stroke-width="1.5"/>
<line x1="92.2" y1="926.2" x2="98.2" y2="926.2" stroke="#000" stroke-width="1.5"/>
<line x1="139.6" y1="857.7" x2="139.6" y2="836.6" stroke="#000" stroke-width="1.5"/>
<line x1="131.6" y1="857.7" x2="147.6" y2="857.7" stroke="#000" stroke-width="1.5"/>
<line x1="139.6" y1="918.75" x2="139.6" y2="921.5" stroke="#000" stroke-width="1.5"/>
<line x1="132.1" y1="918.75" x2="147.1" y2="918.75" stroke="#000" stroke-width="1.5"/>
<line x1="184" y1="857.7" x2="184" y2="837.8" stroke="#000" stroke-width="1.5"/>
<line x1="176" y1="857.7" x2="192" y2="857.7" stroke="#000" stroke-width="1.5"/>
<line x1="184" y1="923.5" x2="184" y2="924.5" stroke="#000" stroke-width="1.5"/>
<line x1="179" y1="923.5" x2="189" y2="923.5" stroke="#000" stroke-width="1.5"/>
<line x1="228.7" y1="793" x2="228.7" y2="796.2" stroke="#000" stroke-width="1.5"/>
<line x1="221.2" y1="793" x2="236.2" y2="793" stroke="#000" stroke-width="1.5"/>
<text x="141.2" y="828.885" font-size="13.5" font-weight="bold" text-anchor="middle">*</text>
<text x="185.6" y="830.285" font-size="13.5" font-weight="bold" text-anchor="middle">*</text>
<text x="139.6" y="908" font-size="10.7" font-weight="normal" text-anchor="middle">ns</text>
<text x="184" y="914" font-size="10.7" font-weight="normal" text-anchor="middle">ns</text>
<rect x="69.5" y="770.75" width="11" height="11.75" fill="#000"/>
<rect x="70.1" y="788.6" width="9.8" height="10.5" fill="#fff" stroke="#000" stroke-width="1.2"/>
<text x="86.5" y="781.25" font-size="12.4" font-weight="normal" text-anchor="start">1° bleeding time</text>
<text x="86.5" y="798.25" font-size="12.4" font-weight="normal" text-anchor="start">2° bleeding time</text>
</g>
<g id="panelG">
<text x="282.5" y="755" font-size="17" font-weight="bold" text-anchor="start">G</text>
<line x1="341.75" y1="772.25" x2="341.75" y2="933.75" stroke="#000" stroke-width="1.6"/>
<line x1="337.25" y1="933.0" x2="341.75" y2="933.0" stroke="#000" stroke-width="1.6"/>
<text x="331.25" y="936.9" font-size="10.8" font-weight="bold" text-anchor="end">0</text>
<line x1="337.25" y1="893.0" x2="341.75" y2="893.0" stroke="#000" stroke-width="1.6"/>
<text x="331.25" y="896.9" font-size="10.8" font-weight="bold" text-anchor="end">1</text>
<line x1="337.25" y1="853.0" x2="341.75" y2="853.0" stroke="#000" stroke-width="1.6"/>
<text x="331.25" y="856.9" font-size="10.8" font-weight="bold" text-anchor="end">2</text>
<line x1="337.25" y1="813.0" x2="341.75" y2="813.0" stroke="#000" stroke-width="1.6"/>
<text x="331.25" y="816.9" font-size="10.8" font-weight="bold" text-anchor="end">3</text>
<line x1="337.25" y1="773.0" x2="341.75" y2="773.0" stroke="#000" stroke-width="1.6"/>
<text x="331.25" y="776.9" font-size="10.8" font-weight="bold" text-anchor="end">4</text>
<line x1="349.25" y1="942" x2="511.6" y2="942" stroke="#000" stroke-width="1.6"/>
<line x1="371.25" y1="942" x2="371.25" y2="947.5" stroke="#000" stroke-width="1.6"/>
<text x="371.25" y="963.2" font-size="11" font-weight="bold" text-anchor="middle">Vehicle</text>
<line x1="411" y1="942" x2="411" y2="947.5" stroke="#000" stroke-width="1.6"/>
<text x="411" y="963.2" font-size="11" font-weight="bold" text-anchor="middle">5</text>
<line x1="450.75" y1="942" x2="450.75" y2="947.5" stroke="#000" stroke-width="1.6"/>
<text x="450.75" y="963.2" font-size="11" font-weight="bold" text-anchor="middle">10</text>
<line x1="490.5" y1="942" x2="490.5" y2="947.5" stroke="#000" stroke-width="1.6"/>
<text x="490.5" y="963.2" font-size="11" font-weight="bold" text-anchor="middle">Hir</text>
<text x="432.5" y="985" font-size="12.9" font-weight="bold" text-anchor="middle">ABT-263 (mg/kg)</text>
<text x="305.9" y="852.9" font-size="14.05" font-weight="bold" text-anchor="middle" transform="rotate(-90 305.9 852.9)" textLength="177.2" lengthAdjust="spacingAndGlyphs">Haemoglobin (Abs 575nm)</text>
<polyline points="398,961.5 398,967.5 464.25,967.5 464.25,961.5" fill="none" stroke="#000" stroke-width="1.4"/>
<rect x="357.5" y="929.5" width="27.5" height="3.5" fill="#000"/>
<rect x="397.5" y="922.5" width="27.5" height="10.5" fill="#000"/>
<rect x="437" y="922.5" width="27.5" height="10.5" fill="#000"/>
<rect x="477.2" y="824.8" width="26.80000000000001" height="108.20000000000005" fill="#000"/>
<line x1="371.25" y1="928.8" x2="371.25" y2="929.5" stroke="#000" stroke-width="1.5"/>
<line x1="365.25" y1="928.8" x2="377.25" y2="928.8" stroke="#000" stroke-width="1.5"/>
<line x1="411.25" y1="920.75" x2="411.25" y2="922.5" stroke="#000" stroke-width="1.5"/>
<line x1="404.5" y1="920.75" x2="418.0" y2="920.75" stroke="#000" stroke-width="1.5"/>
<line x1="450.75" y1="919.5" x2="450.75" y2="922.5" stroke="#000" stroke-width="1.5"/>
<line x1="444.25" y1="919.5" x2="457.25" y2="919.5" stroke="#000" stroke-width="1.5"/>
<line x1="490.5" y1="802.2" x2="490.5" y2="824.8" stroke="#000" stroke-width="1.5"/>
<line x1="483.5" y1="802.2" x2="497.5" y2="802.2" stroke="#000" stroke-width="1.5"/>
<text x="409.6" y="914.395" font-size="14.5" font-weight="bold" text-anchor="middle">**</text>
<text x="489" y="794.895" font-size="14.5" font-weight="bold" text-anchor="middle">***</text>
<text x="448.7" y="910" font-size="11.3" font-weight="normal" text-anchor="middle">ns</text>
</g>
</svg></body></html>
